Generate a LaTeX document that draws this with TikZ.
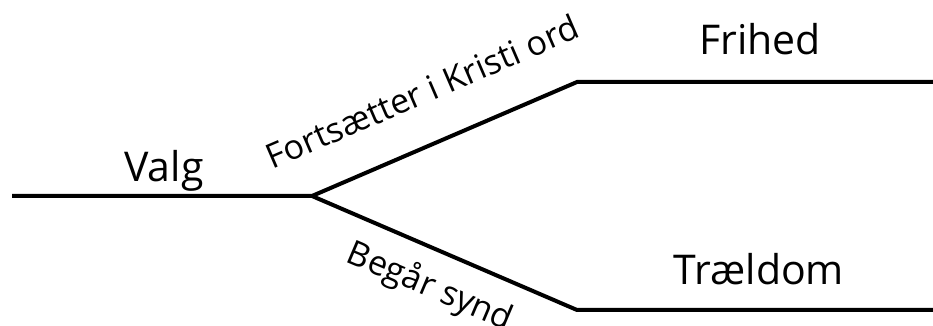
\documentclass[tikz,border=0pt]{standalone}
\usepackage{fontspec}
\setmainfont{Open Sans}
\begin{document}
\begin{tikzpicture}[x=1pt,y=1pt,
  branch/.style={line width=4pt, line join=miter, black},
  bigtxt/.style={anchor=base, inner sep=0pt, font=\fontsize{41}{41}\selectfont},
  slopetxt/.style={anchor=base, inner sep=0pt, font=\fontsize{34}{34}\selectfont}]
\useasboundingbox (0,0) rectangle (933,326);
\coordinate (S) at (12,130);
\coordinate (J) at (312,130);
\coordinate (U) at (577,244);
\coordinate (UE) at (933,244);
\coordinate (L) at (577,16);
\coordinate (LE) at (933,16);
\draw[branch] (S) -- (J) -- (U) -- (UE);
\draw[branch] (J) -- (L) -- (LE);
\node[bigtxt] (valg) at (164,144) {Valg};
\node[bigtxt] (frihed) at (760,271) {Frihed};
\node[bigtxt] (traeldom) at (759,41) {Trældom};
\node[slopetxt, rotate=23.3] (fort) at (427,223) {Fortsætter i Kristi ord};
\node[slopetxt, rotate=-23] (begar) at (426,30) {Begår synd};
\end{tikzpicture}
\end{document}
